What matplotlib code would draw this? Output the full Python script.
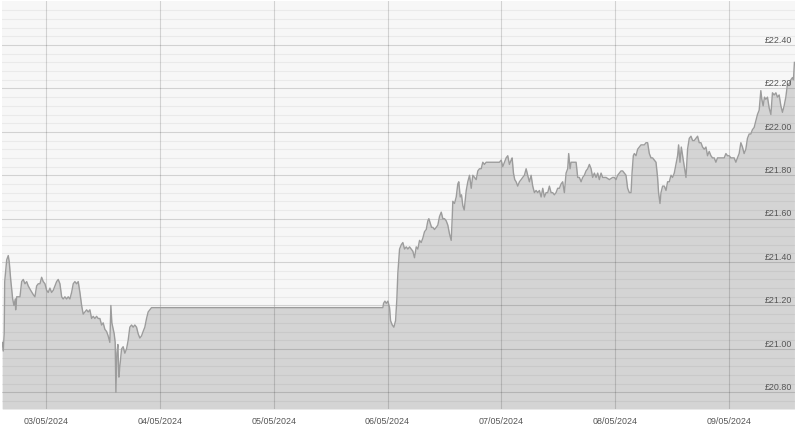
import matplotlib
matplotlib.use("Agg")
import matplotlib.pyplot as plt
import matplotlib.transforms as mtransforms
import numpy as np

# Hours since 03/05/2024 00:00 and price (GBP)
hours = [
    -9.2, -9.0, -8.8, -8.69, -8.27, -7.94, -7.73, -7.43, -7.01, -6.74, -6.46, -6.38, -6.17,
    -5.83, -5.47, -5.12, -4.78, -4.42, -4.06, -3.73, -3.22, -2.67, -2.32, -1.96, -1.62,
    -1.26, -0.91, -0.57, -0.21, 0.15, 0.48, 0.84, 1.20, 1.54, 1.89, 2.25, 2.59, 2.95,
    3.31, 3.64, 4.00, 4.36, 4.69, 5.05, 5.41, 5.75, 6.10, 6.46, 6.80, 7.16, 7.52, 7.85,
    8.21, 8.57, 8.90, 9.26, 9.62, 9.96, 10.31, 10.67, 11.01, 11.37, 11.73, 12.06, 12.42,
    12.78, 13.11, 13.47, 13.68, 13.89, 14.17, 14.38, 14.59, 14.74, 14.95, 15.16, 15.37,
    15.58, 15.94, 16.27, 16.63, 16.99, 17.33, 17.68, 18.04, 18.38, 18.73, 19.09, 19.43,
    19.79, 20.15, 20.48, 20.84, 21.20, 21.54, 21.89, 22.25,
    71.00, 71.15, 71.43, 71.72, 72.06, 72.41, 72.62, 72.98, 73.32, 73.68, 73.95, 74.16,
    74.52, 74.88, 75.21, 75.57, 75.93, 76.27, 76.62, 76.98, 77.32, 77.67, 78.03, 78.37,
    78.73, 79.08, 79.42, 79.78, 80.14, 80.48, 80.69, 80.98, 81.26, 81.53, 81.89, 82.25,
    82.58, 82.94, 83.30, 83.64, 83.99, 84.35, 84.69, 85.04, 85.40, 85.61, 85.74, 86.10,
    86.46, 86.79, 87.00, 87.30, 87.57, 87.85, 88.14, 88.57, 88.90, 89.26, 89.62, 89.95,
    90.31, 90.67, 91.01, 91.36, 91.72, 92.06, 92.41, 92.77, 93.11, 93.47, 93.83, 94.16,
    94.52, 94.88, 95.21, 95.57, 95.93, 96.27, 96.62, 96.98, 97.32, 97.67, 98.03, 98.24,
    98.52, 98.79, 99.08, 99.42, 99.78, 100.14, 100.47, 100.83, 101.19, 101.52,
    101.88, 102.24, 102.58, 102.94, 103.29, 103.63, 103.99, 104.35, 104.69, 105.04,
    105.40, 105.74, 106.09, 106.45, 106.79, 107.15, 107.50, 107.84, 108.20, 108.56,
    108.89, 109.25, 109.61, 109.95, 110.16, 110.45, 110.67, 111.00, 111.36, 111.72,
    112.06, 112.41, 112.77, 113.11, 113.46, 113.82, 114.16, 114.52, 114.88, 115.21,
    115.57, 115.93, 116.27, 116.62, 116.98, 117.32, 117.67, 118.03, 118.73, 119.42,
    119.78, 120.14, 120.48, 120.83, 121.19, 121.53, 121.88, 122.24, 122.58, 122.94,
    123.30, 123.51, 123.78, 123.99, 124.35, 124.69, 125.05, 125.40, 125.74, 126.10,
    126.45, 126.79, 127.15, 127.51, 127.84, 128.20, 128.56, 128.89, 129.10, 129.40,
    129.61, 129.95, 130.31, 130.67, 131.00, 131.36, 131.72, 132.06, 132.41, 132.77,
    133.11, 133.32, 133.61, 133.89, 134.16, 134.52, 134.88, 135.21, 135.57, 135.93,
    136.27, 136.62, 136.98, 137.32, 137.67, 138.03, 138.37, 138.72, 139.08, 139.42,
    139.77, 140.13, 140.47, 140.83, 141.18, 141.52, 141.88, 142.24, 142.57, 142.93,
    143.29, 143.62, 143.98, 144.34, 144.67, 145.03, 145.39, 145.72, 146.08, 146.44,
    146.78, 147.13, 147.49, 147.83, 148.19, 148.54, 148.88, 149.24, 149.60, 149.94,
    150.30, 150.65, 150.86, 151.14, 151.42, 151.71, 152.05, 152.41, 152.77, 153.10,
    153.46, 153.82, 154.15, 154.51, 154.87, 155.21, 155.56, 155.92, 156.26, 156.62,
    156.98, 157.31, 157.52, 157.73,
]
prices = [
    21.03, 20.99, 21.07, 21.31, 21.41, 21.43, 21.40, 21.32, 21.23, 21.20, 21.23, 21.18, 21.24,
    21.24, 21.24, 21.31, 21.32, 21.30, 21.31, 21.29, 21.27, 21.25, 21.24, 21.29, 21.30,
    21.30, 21.33, 21.31, 21.30, 21.27, 21.26, 21.28, 21.26, 21.27, 21.29, 21.31, 21.32, 21.30,
    21.24, 21.23, 21.24, 21.23, 21.24, 21.23, 21.26, 21.30, 21.31, 21.30, 21.31, 21.26, 21.20, 21.16,
    21.17, 21.18, 21.17, 21.18, 21.14, 21.15, 21.14, 21.15, 21.14, 21.14, 21.11, 21.12, 21.09,
    21.08, 21.06, 21.03, 21.20, 21.12, 21.09, 21.07, 21.03, 20.80, 20.98, 21.02, 20.87,
    20.92, 21.00, 21.01, 20.98, 21.00, 21.04, 21.10, 21.11, 21.10, 21.11, 21.10, 21.07,
    21.05, 21.06, 21.08, 21.10, 21.14, 21.17, 21.18, 21.19,
    21.19, 21.21, 21.22, 21.21, 21.22, 21.19, 21.13, 21.11, 21.10, 21.13, 21.23, 21.35,
    21.46, 21.48, 21.49, 21.46, 21.47, 21.46, 21.47, 21.46, 21.45, 21.42, 21.47, 21.46,
    21.50, 21.49, 21.51, 21.54, 21.55, 21.59, 21.60, 21.58, 21.56, 21.56, 21.55, 21.56,
    21.57, 21.61, 21.63, 21.60, 21.60, 21.59, 21.57, 21.53, 21.50, 21.60, 21.68, 21.67,
    21.70, 21.76, 21.77, 21.70, 21.71, 21.66, 21.64, 21.73, 21.77, 21.80, 21.74, 21.80,
    21.79, 21.78, 21.82, 21.83, 21.83, 21.86, 21.85, 21.86, 21.86, 21.86, 21.86, 21.86,
    21.86, 21.86, 21.86, 21.86, 21.87, 21.84, 21.86, 21.88, 21.89, 21.85, 21.87, 21.88,
    21.81, 21.78, 21.77, 21.75, 21.77, 21.78, 21.79, 21.80, 21.83, 21.80,
    21.77, 21.80, 21.75, 21.72, 21.73, 21.72, 21.73, 21.70, 21.74, 21.70,
    21.72, 21.72, 21.75, 21.72, 21.72, 21.71, 21.72, 21.74, 21.74, 21.76,
    21.77, 21.72, 21.81, 21.83, 21.90, 21.83, 21.86, 21.86, 21.86, 21.86,
    21.79, 21.79, 21.77, 21.79, 21.80, 21.82, 21.83, 21.85, 21.83, 21.79,
    21.81, 21.79, 21.81, 21.78, 21.81, 21.79, 21.79, 21.79, 21.78, 21.79,
    21.79, 21.78, 21.80, 21.81, 21.82, 21.82, 21.81, 21.80, 21.74, 21.72,
    21.72, 21.81, 21.89, 21.90, 21.89, 21.92, 21.93, 21.94, 21.94, 21.94,
    21.95, 21.95, 21.90, 21.88, 21.88, 21.87, 21.86, 21.79, 21.72, 21.67,
    21.72, 21.75, 21.75, 21.73, 21.77, 21.77, 21.80, 21.79, 21.81, 21.85,
    21.89, 21.94, 21.86, 21.93, 21.89, 21.84, 21.79, 21.92, 21.97, 21.98,
    21.96, 21.96, 21.97, 21.98, 21.95, 21.95, 21.93, 21.92, 21.93, 21.89,
    21.91, 21.89, 21.88, 21.88, 21.86, 21.88, 21.88, 21.88, 21.88, 21.88,
    21.90, 21.89, 21.89, 21.88, 21.88, 21.88, 21.86, 21.88, 21.90, 21.95,
    21.93, 21.90, 21.92, 21.97, 21.99, 21.99, 22.01, 22.02, 22.05, 22.08,
    22.10, 22.19, 22.15, 22.12, 22.16, 22.15, 22.16, 22.11, 22.08, 22.18,
    22.17, 22.18, 22.16, 22.17, 22.12, 22.09, 22.12, 22.16, 22.22, 22.22,
    22.24, 22.25, 22.24, 22.32,
]

date_ticks = [0, 24, 48, 72, 96, 120, 144]
date_labels = ["03/05/2024", "04/05/2024", "05/05/2024", "06/05/2024",
               "07/05/2024", "08/05/2024", "09/05/2024"]
price_ticks = [20.80, 21.00, 21.20, 21.40, 21.60, 21.80, 22.00, 22.20, 22.40]
x_range = (-9.26, 157.85)
y_range = (20.723, 22.603)

fig = plt.figure(figsize=(8, 4.27), dpi=100)
ax = fig.add_axes([2 / 800, 1 - 410 / 427, 793 / 800, 408 / 427])
ax.set_facecolor("#f7f7f7")
ax.set_xlim(*x_range)
ax.set_ylim(*y_range)

ax.fill_between(hours, prices, y_range[0], color="#d4d4d4", linewidth=0, zorder=1)
ax.plot(hours, prices, color="#9c9c9c", linewidth=1.0, zorder=3)

# grid
ax.set_axisbelow(False)
ax.set_yticks(price_ticks)
ax.set_yticks(np.arange(20.76, 22.6, 0.04), minor=True)
ax.set_xticks(date_ticks)
ax.set_xticklabels(date_labels)
ax.grid(which="major", axis="both", color="black", alpha=0.15, linewidth=0.8, zorder=2)
ax.grid(which="minor", axis="y", color="black", alpha=0.05, linewidth=0.8, zorder=2)

for s in ax.spines.values():
    s.set_visible(False)
ax.tick_params(axis="y", which="both", length=0, labelleft=False)
ax.tick_params(axis="x", which="both", length=0, pad=5, labelsize=6.4, labelcolor="#555555")
for lbl in ax.get_xticklabels():
    lbl.set_fontfamily("Liberation Sans")

trans = mtransforms.blended_transform_factory(ax.transAxes, ax.transData)
for p in price_ticks:
    ax.text(0.996, p + 0.006, "£%.2f" % p, transform=trans, ha="right", va="bottom",
            fontsize=6.4, color="#555555", family="Liberation Sans", zorder=4)

fig.savefig("out.png", dpi=100)
